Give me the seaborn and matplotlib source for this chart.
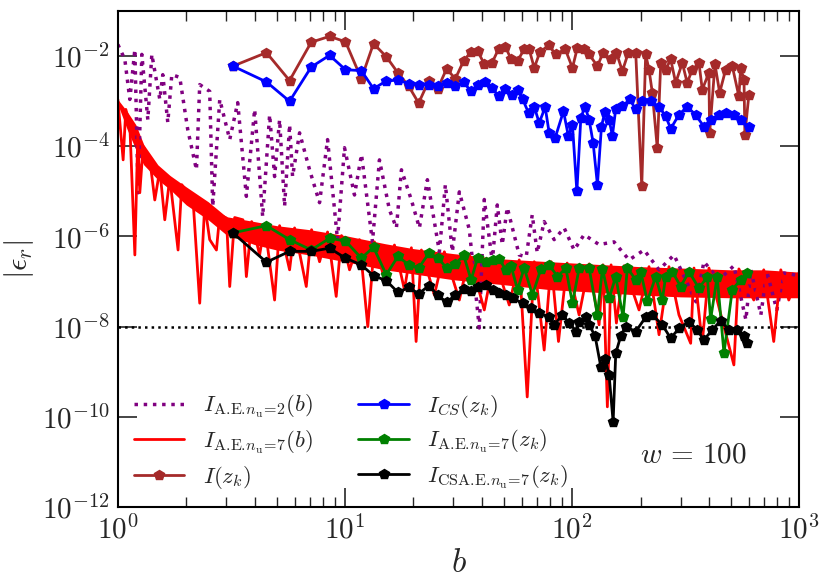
import numpy as np
import matplotlib
matplotlib.use("Agg")
import matplotlib.pyplot as plt
import seaborn as sns
from matplotlib.ticker import FixedLocator, LogLocator, NullLocator, FuncFormatter

# --- data (values are log10 of |eps_r|) ---
# dense asymptotic-expansion curves, n_u = 2 (dotted purple) and n_u = 7 (red)
b_ae2 = [1.000, 1.073, 1.129, 1.188, 1.228, 1.275, 1.355, 1.411, 1.530, 1.577,
         1.659, 1.728, 1.873, 2.031, 2.218, 2.293, 2.537, 2.616, 2.809, 3.108,
         3.370, 3.679, 4.002, 4.340, 4.658, 4.898, 5.152, 5.421, 5.702, 5.877,
         6.310, 6.982, 7.726, 8.379, 9.268, 9.949, 11.01, 11.82, 13.21, 14.18,
         15.69, 16.84, 17.72, 19.60, 21.26, 23.05, 26.03, 27.66, 29.69, 31.87,
         35.27, 39.01, 41.04, 44.51, 46.81, 49.24, 51.80, 58.48, 62.78, 66.72,
         70.19, 75.32, 83.33, 92.22, 102.0, 112.9, 131.4, 152.9, 178.1, 207.3,
         241.3, 280.8, 350.9, 380.4, 442.8, 515.3, 582.0, 612.2, 677.3, 719.5,
         796.3, 855.0, 1000.0]
log_ae2 = [-1.74, -2.07, -2.96, -1.85, -5.03, -1.96, -3.41, -1.96, -2.96, -2.41,
           -3.47, -2.41, -2.47, -3.63, -4.52, -2.63, -2.78, -5.33, -2.96, -3.85,
           -3.03, -5.11, -3.18, -5.56, -3.30, -4.67, -3.41, -5.33, -3.52, -4.67,
           -3.70, -4.52, -5.25, -3.85, -6.07, -4.03, -5.08, -4.18, -6.12, -4.30,
           -5.41, -5.81, -4.52, -5.19, -5.81, -4.74, -6.34, -4.85, -6.34, -5.01,
           -5.85, -8.03, -5.18, -6.56, -5.30, -6.18, -5.36, -6.41, -6.45, -5.52,
           -6.36, -5.67, -6.07, -5.81, -6.30, -5.96, -6.18, -6.12, -6.52, -6.30,
           -6.74, -6.41, -7.45, -6.56, -6.96, -6.65, -7.85, -6.74, -7.74, -6.78,
           -7.63, -6.81, -6.87]

# n_u = 7 curve: spikes ...
b_ae7 = [1.000, 1.055, 1.084, 1.129, 1.188, 1.224, 1.249, 1.292, 1.383, 1.454,
         1.530, 1.609, 1.693, 1.841, 1.911, 2.143, 2.293, 2.412, 2.537, 2.716,
         2.809, 3.006, 3.108, 3.268, 3.554, 3.679, 3.882, 4.209, 4.428, 4.898,
         5.152, 5.702, 5.998, 6.753, 7.124, 7.726, 8.379, 9.147, 9.652, 10.47,
         11.58, 12.60, 13.48, 14.92, 16.51, 18.26, 19.60, 20.56, 21.69, 24.74,
         27.38, 31.87, 35.27, 41.04, 45.41, 52.86, 58.48, 63.42, 68.08, 75.32,
         80.84, 87.07, 95.07, 107.3, 118.8, 131.4, 136.8, 142.9, 148.4, 156.6,
         169.3, 197.0, 218.0, 241.3, 266.9, 295.3, 332.5, 343.9, 373.9, 400.2,
         451.8, 515.3, 542.1, 630.5, 697.6, 771.8, 829.3, 899.0, 1000.0]
log_ae7 = [-2.96, -4.30, -3.18, -3.52, -6.41, -3.74, -5.03, -4.00, -4.30, -5.19,
           -4.52, -5.63, -4.70, -6.30, -4.85, -5.19, -7.48, -5.30, -6.07, -6.30,
           -5.52, -5.59, -7.11, -5.58, -5.63, -6.89, -5.67, -6.41, -5.74, -7.41,
           -5.76, -6.74, -5.81, -7.11, -5.85, -6.56, -5.90, -7.33, -5.98, -6.74,
           -6.07, -8.00, -6.12, -6.96, -6.19, -7.18, -6.25, -8.33, -6.30, -7.30,
           -6.34, -7.41, -6.41, -7.63, -6.47, -7.52, -6.52, -9.56, -6.56, -8.52,
           -6.56, -8.33, -6.59, -7.74, -6.61, -7.96, -6.63, -9.78, -6.63, -7.92,
           -6.65, -7.63, -6.67, -8.18, -6.67, -7.74, -8.37, -6.70, -8.37, -6.70,
           -7.74, -8.85, -6.72, -7.41, -6.74, -8.33, -6.74, -7.41, -6.79]
# ... and the solid band the fast oscillation fills (top and bottom edge)
b_band7 = [1.0, 1.1, 1.2, 1.3, 1.5, 1.7, 2.0, 2.5, 3.0, 4.0, 5.0, 7.0, 10, 15,
           20, 30, 50, 80, 120, 200, 300, 500, 700, 1000]
top_band7 = [-2.96, -3.23, -3.52, -3.96, -4.41, -4.65, -4.90, -5.23, -5.56, -5.67,
             -5.76, -5.85, -5.98, -6.16, -6.27, -6.38, -6.50, -6.56, -6.61, -6.67,
             -6.70, -6.74, -6.74, -6.79]
low_band7 = [-3.07, -3.63, -4.07, -4.41, -4.74, -4.96, -5.30, -5.63, -5.96, -6.18,
             -6.30, -6.41, -6.56, -6.74, -6.83, -6.96, -7.07, -7.18, -7.23, -7.30,
             -7.34, -7.36, -7.36, -7.36]

# quadrature nodes z_k shared by all marker series at small b
zk_low = [3.21, 4.51, 5.70, 7.10, 8.55, 10.05, 11.8, 13.35, 15.2, 17.1,
          19.1, 21.1, 23.4, 25.6, 28.0, 30.6, 33.3, 35.9, 38.4]

zk_exact = zk_low + [41.0, 44.4, 47.4, 50.8, 53.8, 57.5, 61.5, 64.7, 68.1, 72.1,
                     78.7, 84.8, 93.2, 100.3, 105.5, 113, 118.8, 129.2, 136.9, 148,
                     156.6, 166.4, 176.8, 190.5, 202.5, 210.7, 218, 225.4, 237, 245.5,
                     258, 271.6, 285.6, 305.5, 321, 338, 361.7, 374, 400, 403,
                     425.5, 446, 474, 507, 542, 552, 571, 576, 600]
log_exact = [-2.22, -1.92, -2.54, -1.69, -1.56, -1.68, -2.50, -1.72, -2.01, -2.37,
             -2.67, -3.04, -2.54, -2.72, -2.28, -2.50, -2.10, -1.90, -1.89,
             -2.17, -2.15, -1.84, -1.79, -2.06, -2.11, -1.84, -1.85, -2.26, -1.91,
             -1.76, -1.96, -1.84, -2.26, -1.81, -1.84, -1.96, -2.22, -1.92, -2.07,
             -1.92, -2.33, -1.92, -1.92, -4.89, -1.96, -2.30, -2.81, -4.04, -2.15,
             -2.30, -2.07, -2.59, -2.15, -2.59, -2.30, -2.15, -2.74, -2.37, -3.70,
             -2.18, -2.81, -2.30, -2.22, -2.89, -2.26, -2.52, -3.74, -2.85]

zk_cs = zk_low + [41.4, 44.4, 47.4, 50.8, 54.3, 57.5, 60.5, 64.3, 68.1, 71.6,
                  76.1, 79.2, 84.2, 91.6, 96.3, 100.3, 104.9, 109.2, 114, 118.8,
                  123.7, 129.2, 134.6, 139.3, 145.4, 150.4, 155.6, 166.4, 179.3, 190.5,
                  203.7, 221.8, 241.2, 258, 271.6, 295, 321, 349.6, 380, 407,
                  443, 474, 515, 552, 600]
log_cs = [-2.22, -2.57, -3.00, -2.24, -1.98, -2.30, -2.32, -2.72, -2.55, -2.53,
          -2.61, -2.64, -2.63, -2.67, -2.59, -2.67, -2.58, -2.78, -2.63,
          -2.58, -2.70, -2.89, -2.72, -2.85, -2.76, -2.95, -3.26, -3.12, -3.48,
          -3.13, -3.70, -3.81, -3.22, -3.78, -3.52, -5.00, -3.37, -3.12, -3.41,
          -3.92, -4.85, -3.56, -3.24, -3.41, -3.76, -3.17, -3.11, -2.96, -3.18,
          -3.00, -3.00, -3.12, -3.33, -3.61, -3.30, -3.12, -3.30, -3.56, -3.41,
          -3.30, -3.27, -3.30, -3.41, -3.57]

zk_ae7 = zk_low + [41.6, 44.7, 47.8, 51.0, 53.8, 57.5, 61.5, 66.9, 72.8, 79.2,
                   86.2, 93.8, 100.3, 107.4, 118.8, 129.2, 135.9, 145.4, 155.6, 167.5,
                   175, 190.5, 200.4, 214.3, 233.2, 249.4, 258, 276, 300.6, 326.8,
                   361.7, 393.6, 407, 435, 466, 507, 552, 590]
log_zae7 = [-5.92, -5.76, -6.07, -6.30, -6.04, -6.10, -6.48, -6.24, -6.85, -6.44,
            -6.63, -6.70, -6.37, -6.47, -6.70, -6.61, -6.42, -6.96, -6.47,
            -6.56, -6.52, -6.50, -6.74, -6.65, -7.18, -6.70, -7.30, -6.72, -6.63,
            -6.89, -6.70, -7.48, -6.70, -6.70, -7.74, -6.72, -7.37, -6.89, -7.79,
            -6.70, -6.96, -6.78, -7.44, -6.89, -7.41, -6.89, -6.78, -7.11, -6.78,
            -7.15, -6.89, -7.84, -6.89, -8.59, -7.18, -6.96, -6.80]

zk_csae = zk_low + [41.6, 44.7, 47.8, 51.0, 54.7, 60.5, 65.8, 71.6, 79.2, 83.4,
                    90.6, 97.0, 104.5, 107.4, 114.9, 118.8, 126.2, 133.7, 139.7, 145.4,
                    151.5, 155.6, 163.7, 172.2, 190.5, 210.7, 225.4, 249.4, 271.6, 295,
                    326.8, 355.5, 380, 413.7, 450.8, 490, 533, 570, 590]
log_csae = [-5.92, -6.57, -6.33, -6.33, -6.26, -6.48, -6.63, -6.87, -6.98, -7.24,
            -7.13, -7.27, -7.09, -7.30, -7.46, -7.30, -7.16, -7.22, -7.13,
            -7.07, -7.18, -7.26, -7.30, -7.37, -7.48, -7.59, -7.70, -7.79, -7.96,
            -7.74, -7.92, -8.11, -7.89, -7.79, -7.96, -8.21, -8.89, -8.72, -9.07,
            -10.11, -8.59, -8.21, -8.00, -8.11, -7.79, -7.74, -7.96, -8.26, -8.04,
            -7.89, -8.07, -8.30, -8.07, -7.87, -8.07, -8.07, -8.21, -8.37]

sns.set_style("ticks")
plt.rcParams["mathtext.fontset"] = "cm"
plt.rcParams["font.family"] = ["DejaVu Serif"]

fig, ax = plt.subplots(figsize=(8.3, 5.86), dpi=100)
fig.subplots_adjust(left=0.142, right=0.963, bottom=0.135, top=0.981)
ax.set(xscale="log", yscale="log")

ax.axhline(1e-8, color="k", ls=":", lw=1.8, zorder=1)

handles = []
def draw(x, logy, **kw):
    sns.lineplot(x=x, y=10.0 ** np.array(logy), sort=False, estimator=None,
                 ax=ax, **kw)
    handles.append(ax.lines[-1])

AE = r"\mathrm{A.\!E.}\!n_{\mathrm{u}}\!=\!"
draw(b_ae2, log_ae2, color="purple", lw=2.5, ls=":",
     label=r"$I_{" + AE + r"2}(b)$")
ax.fill_between(b_band7, 10.0 ** np.array(low_band7), 10.0 ** np.array(top_band7),
                color="red", lw=0)
draw(b_ae7, log_ae7, color="red", lw=2.0,
     label=r"$I_{" + AE + r"7}(b)$")
mk = dict(marker="p", markersize=7, markeredgewidth=1, lw=2.0)
draw(zk_exact, log_exact, color="brown", markeredgecolor="brown",
     label=r"$I(z_k)$", **mk)
draw(zk_cs, log_cs, color="blue", markeredgecolor="blue",
     label=r"$I_{CS}(z_k)$", **mk)
draw(zk_ae7, log_zae7, color="green", markeredgecolor="green",
     label=r"$I_{" + AE + r"7}(z_k)$", **mk)
draw(zk_csae, log_csae, color="black", markeredgecolor="black",
     label=r"$I_{\mathrm{CSA.\!E.}\!n_{\mathrm{u}}\!=\!7}(z_k)$", **mk)

ax.set_xlim(1, 1000)
ax.set_ylim(1e-12, 1e-1)

ax.yaxis.set_major_locator(FixedLocator([1e-12, 1e-10, 1e-8, 1e-6, 1e-4, 1e-2]))
ax.yaxis.set_minor_locator(NullLocator())
ax.xaxis.set_major_locator(LogLocator(base=10))
ax.xaxis.set_minor_locator(LogLocator(base=10, subs=np.arange(2, 10)))
ax.xaxis.set_minor_formatter(plt.NullFormatter())
powfmt = FuncFormatter(lambda v, p: r"$10^{%d}$" % round(np.log10(v)))
ax.xaxis.set_major_formatter(powfmt)
ax.yaxis.set_major_formatter(powfmt)

ax.tick_params(which="both", direction="in", top=True, right=True, labelsize=21)
ax.tick_params(which="major", length=14, width=1.2, pad=6)
ax.tick_params(which="minor", length=7, width=1.0)
for s in ax.spines.values():
    s.set_linewidth(1.5)
    s.set_color("black")

ax.set_xlabel(r"$b$", fontsize=24, labelpad=2)
ax.set_ylabel(r"$|\epsilon_r|$", fontsize=22, labelpad=4)

ax.text(0.845, 0.105, r"$w\,=\,100$", transform=ax.transAxes, ha="center",
        va="center", fontsize=21)

ax.legend(handles=handles, loc="lower left", ncol=2, frameon=False,
          fontsize=16.5, handlelength=2.2, columnspacing=2.0, labelspacing=0.35,
          borderaxespad=0.3, handletextpad=0.8)

plt.savefig("out.png", dpi=100)
